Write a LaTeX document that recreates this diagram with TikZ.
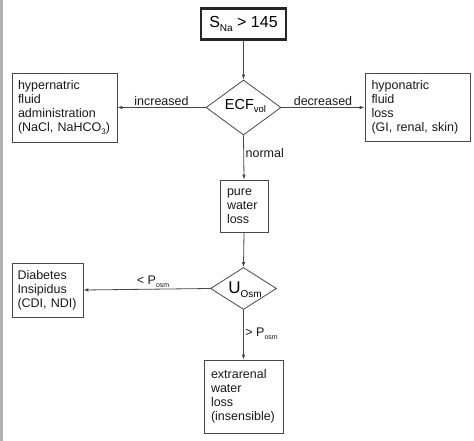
\documentclass[tikz,border=0pt]{standalone}
\usepackage{fontspec}
\setmainfont{Liberation Sans}
\usetikzlibrary{shapes.geometric,arrows.meta}
\newcommand\mysub[2]{\raisebox{-0.45ex}{\fontsize{#1}{#1}\selectfont #2}}
\begin{document}
\begin{tikzpicture}[x=1pt,y=-1pt,
  box/.style={draw=black!72, line width=0.8pt, rectangle, inner sep=0pt, align=left,
     font=\fontsize{12.5}{14}\selectfont, text=black!90},
  dia/.style={draw=black!72, line width=0.8pt, diamond, inner sep=0pt, shape aspect=1.4},
  conn/.style={draw=black!72, line width=0.8pt, -{Latex[length=5pt,width=3.6pt]}},
  lab/.style={font=\fontsize{12.5}{14}\selectfont, text=black!90, inner sep=1.5pt}
]
\useasboundingbox (0,0) rectangle (474,441);
\fill[black!30] (0,0) rectangle (2.5,441);

% top box
\node[draw=black!85, line width=2.6pt, minimum width=85, minimum height=31, inner sep=0pt,
  font=\fontsize{16}{18}\selectfont] (top) at (243.5,24) {S\mysub{10}{Na} > 145};

% ECF diamond
\node[dia, minimum width=75, minimum height=55] (ecf) at (243.5,107.5) {};
\node[font=\fontsize{14.5}{16}\selectfont, inner sep=0pt] (ecft) at (245.5,106) {ECF\mysub{9.5}{vol}};

% side boxes
\node[box, minimum width=105, minimum height=69, text width=93] (hyper) at (64.5,107.5)
  {hypernatric\\fluid\\administration\\(NaCl, NaHCO\mysub{8}{3})};
\node[box, minimum width=105, minimum height=68, text width=92] (hypo) at (417.5,107.5)
  {hyponatric\\fluid\\loss\\(GI, renal, skin)};

% pure water loss
\node[box, minimum width=48, minimum height=52, text width=34] (pure) at (244,206)
  {pure\\water\\loss};

% U_Osm diamond
\node[dia, minimum width=66, minimum height=42] (uosm) at (243.5,288.5) {};
\node[inner sep=0pt] (uosmt) at (245,289.5) {\fontsize{17}{18}\selectfont U\mysub{10}{Osm}};

% Diabetes insipidus
\node[box, minimum width=71, minimum height=54, text width=60] (di) at (47.5,290)
  {Diabetes\\Insipidus\\\mbox{(CDI, NDI)}};

% extrarenal
\node[box, minimum width=79, minimum height=73, text width=65] (extra) at (243.5,396.5)
  {extrarenal\\water\\loss\\(insensible)};

% connectors
\draw[conn] (top.south) -- (ecf.north);
\draw[conn] (ecf.west) -- node[lab, above] {increased} (hyper.east);
\draw[conn] (ecf.east) -- node[lab, above] {decreased} (hypo.west);
\draw[conn] (ecf.south) -- node[lab, right, pos=0.4] {normal} (pure.north);
\draw[conn] (pure.south) -- (uosm.north);
\draw[conn] (uosm.west) -- node[lab, above, pos=0.45] {< P\mysub{7}{osm}} (di.east);
\draw[conn] (uosm.south) -- node[lab, right, pos=0.47] {> P\mysub{7}{osm}} (extra.north);
\end{tikzpicture}
\end{document}
